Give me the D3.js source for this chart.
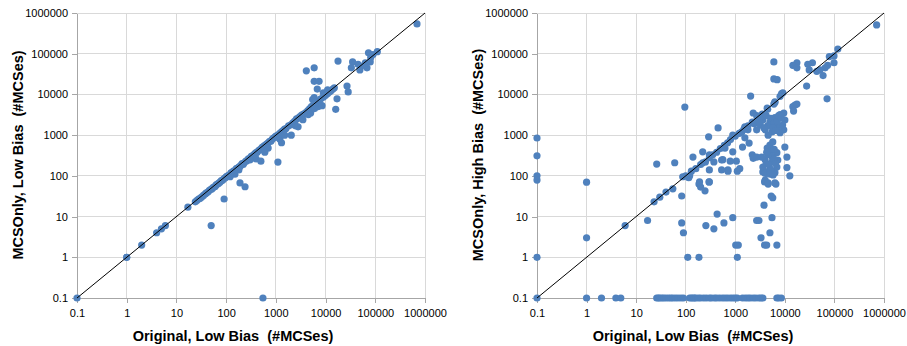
<!DOCTYPE html>
<html>
<head>
<meta charset="utf-8">
<script src="https://cdn.jsdelivr.net/npm/d3@7"></script>
<style>
  html, body { margin: 0; padding: 0; background: #fff; }
  svg { display: block; }
  text { font-family: "Liberation Sans", Arial, sans-serif; }
</style>
</head>
<body>
<svg id="chart" width="907" height="346"></svg>
<script>
// ---- Data ----
const tickValues = [0.1, 1, 10, 100, 1000, 10000, 100000, 1000000];
const tickLabels = ["0.1", "1", "10", "100", "1000", "10000", "100000", "1000000"];

const xTitle = "Original, Low Bias  (#MCSes)";
const yTitleLeft = "MCSOnly, Low Bias  (#MCSes)";
const yTitleRight = "MCSOnly, High Bias  (#MCSes)";

// Left panel: [Original Low Bias, MCSOnly Low Bias]
const lowBiasPairs = [
  [0.1,0.1],[1,1],[1,1],[2,2],[4,4],[5,5],[6,6],[17,17],
  [24,23],[26,25],[28,27],[30,28],[32,30],[35,33],[38,36],[40,38],[43,40],[46,44],[50,47],[52,48],
  [55,52],[60,55],[63,60],[66,62],[70,65],[75,70],[80,76],[85,78],[90,85],[95,88],[100,95],[105,98],
  [110,100],[115,105],[120,95],[125,118],[130,120],[140,130],[150,135],[160,150],[170,155],[180,165],
  [190,170],[200,185],[210,200],[220,190],[230,210],[250,230],[260,235],[280,260],[300,270],[320,300],
  [340,310],[360,330],[380,350],[400,370],[420,380],[450,420],[480,440],[500,450],[530,500],[560,520],
  [600,560],[650,600],[700,650],[750,700],[800,720],[850,800],[900,850],[950,880],[1000,950],[1100,1000],
  [1200,1100],[1300,1200],[1400,1300],[1500,1400],[1600,1450],[1800,1700],[2000,1800],[2200,2000],
  [2400,2200],[2600,2500],[2800,2600],[3000,2800],[3300,3100],[3600,3300],[4000,3600],[4400,4000],
  [4800,4500],[5200,5000],[5600,5300],[6000,5800],[6500,6200],[7000,6800],[7500,7000],[8000,7800],
  [9000,8500],[10000,9500],[11000,10500],[12000,11500],[13000,12500],[14000,13500],[15000,14500],
  [3500,2400],[4500,3200],[5000,3500],[1200,800],[700,480],[150,110],[180,140],[1500,1000],[2500,1700],
  [400,260],[600,380],[7000,5000],[6000,4500],[5500,7500],[5900,8400],[9000,11000],[11000,13000],
  [50,6],[91,27],[190,67],[240,54],[550,0.1],[500,230],[300,245],[1100,218],[2040,1000],[1300,650],
  [2800,1600],[8500,5300],[17000,7800],[16000,4300],[27000,16000],[28500,11500],[4100,38000],
  [5900,45000],[5900,21000],[7400,21000],[6800,13500],[17800,66000],[690000,540000],[73000,105000],
  [110000,112000],[35000,63000],[33000,45000],[49000,40000],[63000,60000],[79000,63000],[81000,81000],
  [68000,45000],[90000,95000],[60000,52000],[45000,55000],[120,100]
];

// Right panel: [Original Low Bias, MCSOnly High Bias]
const highBiasPairs = [
  [0.1,0.1],[0.1,1],[0.1,79],[0.1,100],[0.1,310],[0.1,850],[1,0.1],[1,3],[1,70],[2,0.1],[3.9,0.1],
  [4.9,0.1],[6,6],[17,8],[23,23],[30,30],[40,40],[55,48],[26,195],[60,210],[96,4900],[83,32],[83,7],
  [90,4],[87,95],[115,90],[110,1],[185,1],[185,63],[200,53],[245,43],[295,71],[255,6],[370,5],[430,11.5],
  [590,7],[890,9.4],[710,130],[1100,130],[1020,2],[1150,2],[1100,1],[2700,8],[3000,8],[3300,3],[3800,19],
  [3900,2],[4300,2],[6900,2],[3900,71],[4600,63],[6600,63],[5300,32],[5700,29],[5500,9.4],[5000,4],
  [12600,100],[3600,125],[4200,120],[4800,130],[5500,125],[6300,120],
  [26,0.1],[28,0.1],[30,0.1],[33,0.1],[36,0.1],[40,0.1],[45,0.1],[50,0.1],[55,0.1],[62,0.1],[70,0.1],
  [80,0.1],[90,0.1],[120,0.1],[130,0.1],[140,0.1],[150,0.1],[160,0.1],[180,0.1],[200,0.1],[230,0.1],
  [260,0.1],[300,0.1],[330,0.1],[380,0.1],[420,0.1],[480,0.1],[550,0.1],[620,0.1],[700,0.1],[800,0.1],
  [900,0.1],[1000,0.1],[1100,0.1],[1400,0.1],[1600,0.1],[1800,0.1],[2000,0.1],[2300,0.1],[2600,0.1],
  [3000,0.1],[3300,0.1],[3600,0.1],[6900,0.1],[7500,0.1],[8500,0.1],
  [2040,9100],[27500,16000],[71000,7800],[16000,5500],[14500,5000],[15000,3900],[17500,5800],[450,1500],
  [290,910],[140,290],[220,390],[11000,290],[10000,510],[11000,160],[1230,150],[710,140],[1050,230],
  [790,230],[2200,330],[2300,270],[1560,860],[1800,1350],[2400,1900],[890,390],[560,250],[530,140],
  [620,480],[1350,1200],[1400,510],[1900,640],
  [2300,3500],[2700,3000],[4400,4600],[6300,6600],[8600,10500],[1560,1600],[890,1000],[9100,11000],[6300,6300],
  [3200,1770],[3600,2340],[5000,2100],[6300,2700],[8000,3200],[9500,3500],[10000,2340],[9500,1350],
  [7200,1600],[5500,1200],[4000,1350],[2700,1350],[4600,1000],[8000,1150],[9000,1770],
  [5000,570],[5700,430],[4600,330],[6900,370],[4000,245],[5500,220],[3600,165],[5000,150],[6900,165],
  [3400,290],[7200,245],[4400,480],[5700,680],[2700,290],[4600,125],[4000,79],[6300,67],[4600,67],
  [190,71],[300,71],
  [710000,510000],[117000,130000],[98000,88000],[79000,85000],[98000,60000],[73000,52000],[65000,45000],
  [51000,40000],[59000,29000],[36000,60000],[29000,55000],[31000,40000],[44000,37000],[17500,60000],
  [14500,52000],[17500,45000],[6000,63000],[6000,24000],[7000,23000],
  [130,130],[160,150],[200,190],[250,220],[300,280],[350,330],[420,380],[500,470],[600,560],[700,650],
  [800,780],[1000,950],[1200,1100],[1500,1400],[1800,1700],[2200,2100],[2800,2600],[3500,3300],
  [4500,4300],[6000,5800],[8000,9000],
  [300,330],[220,210],[370,220],[300,140],[530,245],[120,100],[100,100],
  [3500,2800],[4200,3000],[5200,2600],[6000,2000],[7000,2200],[7500,3000],[8500,2600],[4500,1700],
  [5800,1500],[6500,1300],[3000,2200],[3800,1500],[5000,400],[5500,300],[6000,260],[4200,200],
  [4800,190],[6500,200],[5200,140],[4300,380],[6100,450],[4000,115],[5000,110],[5800,105]
];

// ---- Drawing ----
const svg = d3.select("#chart");
const labelOf = v => tickLabels[tickValues.indexOf(v)];
const gridColor = "#d9d9d9";
const axisColor = "#a6a6a6";
const dotColor = "#4f81bd";

function panel(opts) {
  const x = d3.scaleLog().domain([0.1, 1e6]).range([opts.x0, opts.x1]);
  const y = d3.scaleLog().domain([0.1, 1e6]).range([298, 13]);
  const g = svg.append("g");

  // gridlines
  g.append("g").selectAll("line.v").data(tickValues.slice(1)).join("line")
    .attr("x1", d => x(d)).attr("x2", d => x(d))
    .attr("y1", y(0.1)).attr("y2", y(1e6))
    .attr("stroke", gridColor).attr("stroke-width", 1).attr("shape-rendering", "crispEdges");
  g.append("g").selectAll("line.h").data(tickValues.slice(1)).join("line")
    .attr("x1", x(0.1)).attr("x2", x(1e6))
    .attr("y1", d => y(d)).attr("y2", d => y(d))
    .attr("stroke", gridColor).attr("stroke-width", 1).attr("shape-rendering", "crispEdges");

  // axes
  const ax = g.append("g").attr("transform", `translate(0,${y(0.1)})`)
    .call(d3.axisBottom(x).tickValues(tickValues).tickFormat(labelOf).tickSize(5).tickSizeOuter(0).tickPadding(6));
  const ay = g.append("g").attr("transform", `translate(${x(0.1)},0)`)
    .call(d3.axisLeft(y).tickValues(tickValues).tickFormat(labelOf).tickSize(5).tickSizeOuter(0).tickPadding(4));
  [ax, ay].forEach(a => {
    a.select(".domain").attr("stroke", axisColor).attr("shape-rendering", "crispEdges");
    a.selectAll(".tick line").attr("stroke", axisColor).attr("shape-rendering", "crispEdges");
    a.selectAll(".tick text").attr("fill", "#000").style("font-size", "11px")
      .style("font-family", '"Liberation Sans", Arial, sans-serif');
  });

  // points
  g.append("g").selectAll("circle").data(opts.data).join("circle")
    .attr("cx", d => x(d[0])).attr("cy", d => y(d[1]))
    .attr("r", 3.6).attr("fill", dotColor);

  // diagonal y = x
  g.append("line")
    .attr("x1", x(0.1)).attr("y1", y(0.1)).attr("x2", x(1e6)).attr("y2", y(1e6))
    .attr("stroke", "#000").attr("stroke-width", 1);

  // titles
  g.append("text").attr("x", opts.xTitleX).attr("y", 341)
    .attr("text-anchor", "middle").style("font-weight", "bold").style("font-size", "14.5px")
    .style("white-space", "pre").text(xTitle);
  g.append("text").attr("transform", `translate(${opts.yTitleX},155) rotate(-90)`)
    .attr("text-anchor", "middle").style("font-weight", "bold").style("font-size", "14.5px")
    .style("white-space", "pre").text(opts.yTitle);
}

panel({ x0: 77, x1: 425, data: lowBiasPairs, xTitleX: 233, yTitleX: 23, yTitle: yTitleLeft });
panel({ x0: 537, x1: 884, data: highBiasPairs, xTitleX: 693, yTitleX: 483, yTitle: yTitleRight });
</script>
</body>
</html>
